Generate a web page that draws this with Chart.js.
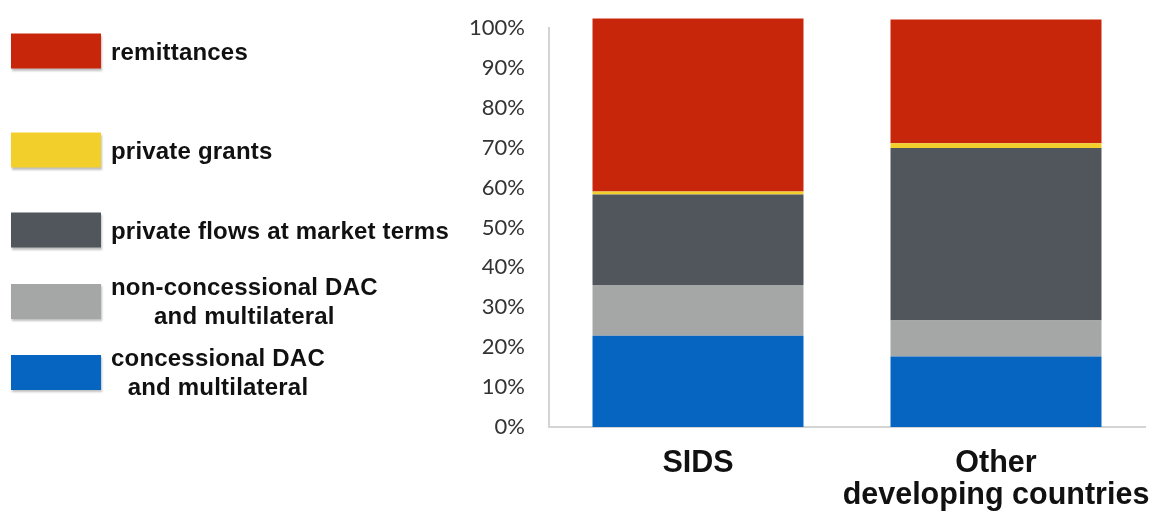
<!DOCTYPE html>
<html>
<head>
<meta charset="utf-8">
<script src="https://cdn.jsdelivr.net/npm/chart.js@4"></script>
<style>
  html, body { margin: 0; padding: 0; background: #fff; }
  #wrap { position: relative; width: 1152px; height: 512px; overflow: hidden; }
  #chart { position: absolute; left: 0; top: 0; }
  .item { position: absolute; left: 11px; display: flex; align-items: center; transform: translateY(-50%); }
  .swatch { width: 90px; height: 35px; box-shadow: 1px 2px 2px rgba(0,0,0,0.25); margin-right: 10px; flex: none; }
  .txt { font: bold 24px "Liberation Sans", Arial, sans-serif; letter-spacing: 0.2px; line-height: 29px; color: #111; text-align: center; white-space: pre-line; }
</style>
</head>
<body>
<div id="wrap">
  <canvas id="chart" width="1152" height="512"></canvas>
  <div id="legend"></div>
</div>
<script>
// 카테고리
const categories = ['SIDS', ['Other', 'developing countries']];

// 시리즈 (아래에서 위로 쌓이는 순서)
const seriesNames = [
  'concessional DAC\nand multilateral',
  'non-concessional DAC\nand multilateral',
  'private flows at market terms',
  'private grants',
  'remittances'
];
const concessional = [22.9, 17.7];
const nonConcessional = [12.7, 9.0];
const privateFlows = [22.7, 43.2];
const privateGrants = [0.7, 1.2];
const remittances = [43.4, 31.0];

const yTicks = [0, 10, 20, 30, 40, 50, 60, 70, 80, 90, 100];

// 색상
const colors = ['#0565c0', '#a5a7a6', '#51565c', '#f2cf2a', '#c8260a'];
const seriesValues = [concessional, nonConcessional, privateFlows, privateGrants, remittances];

// 범례 (HTML) - 위에서 아래로 remittances 먼저
const legendCenters = [51, 150, 230, 301, 372];
const legendEl = document.getElementById('legend');
for (let i = seriesNames.length - 1, k = 0; i >= 0; i--, k++) {
    const div = document.createElement('div');
    div.className = 'item';
    div.style.top = legendCenters[k] + 'px';
    div.innerHTML = `<div class="swatch" style="background:${colors[i]}"></div><div class="txt"></div>`;
    div.querySelector('.txt').textContent = seriesNames[i];
    legendEl.appendChild(div);
}

const ctx = document.getElementById('chart').getContext('2d');
new Chart(ctx, {
    type: 'bar',
    data: {
        labels: categories,
        datasets: seriesValues.map((vals, i) => ({
            label: seriesNames[i],
            data: vals,
            backgroundColor: colors[i],
            borderWidth: 0,
            categoryPercentage: 1,
            barPercentage: 0.708,
            clip: false
        }))
    },
    options: {
        responsive: false,
        animation: false,
        layout: { padding: { left: 440, top: 28, right: 7, bottom: 0 } },
        plugins: {
            legend: { display: false },
            tooltip: { enabled: false }
        },
        scales: {
            x: {
                stacked: true,
                grid: { display: false, drawTicks: false },
                border: { display: true, color: '#d4d4d4', width: 2 },
                ticks: {
                    color: '#111',
                    padding: 20,
                    autoSkip: false,
                    maxRotation: 0,
                    font: { family: '"Liberation Sans", Arial, sans-serif', size: 30.5, weight: 'bold', lineHeight: 1.06 }
                },
                afterFit: (scale) => {
                    scale.height = 85;
                    scale.paddingLeft = 0;
                    scale.paddingRight = 0;
                }
            },
            y: {
                stacked: true,
                min: 0,
                max: 100,
                grid: { display: false, drawTicks: false },
                border: { display: true, color: '#d4d4d4', width: 2 },
                afterBuildTicks: (scale) => { scale.ticks = yTicks.map(v => ({ value: v })); },
                ticks: {
                    color: '#333',
                    padding: 24,
                    font: { family: 'Lato, sans-serif', size: 22 },
                    callback: (v) => v + '%'
                },
                afterFit: (scale) => {
                    scale.width = 109;
                    scale.paddingTop = 0;
                    scale.paddingBottom = 0;
                }
            }
        }
    }
});
</script>
</body>
</html>
